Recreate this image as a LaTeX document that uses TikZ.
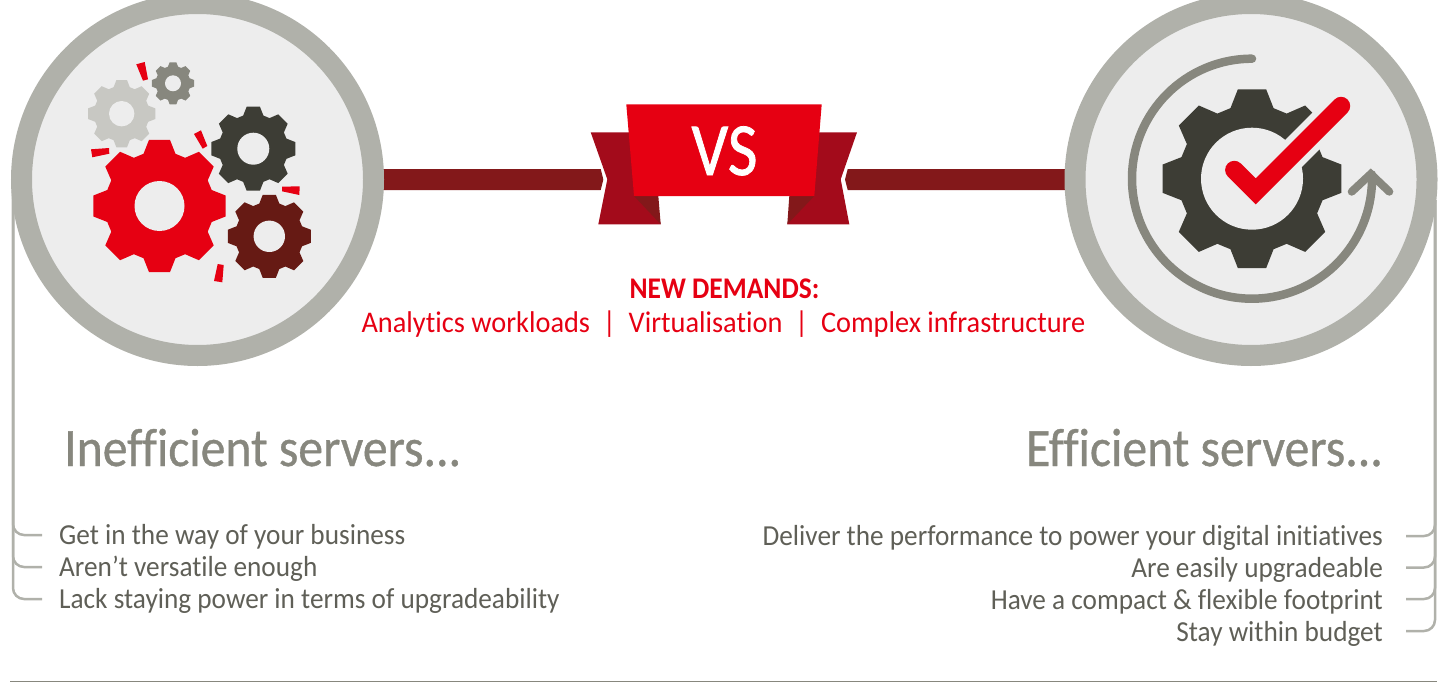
\documentclass[tikz,border=0pt]{standalone}
\usepackage{fontspec}
\setmainfont[Ligatures=NoCommon]{Carlito}
\newfontfamily\listfont[Ligatures=NoCommon,FakeStretch=0.94]{Carlito}
\newfontfamily\redfont[Ligatures=NoCommon,FakeStretch=0.945]{Carlito}
\newfontfamily\demandfont[Ligatures=NoCommon,FakeStretch=0.915]{Carlito}
\newfontfamily\headfont[Ligatures=NoCommon,FakeStretch=0.92,FakeBold=0.7]{Carlito}
\newfontfamily\vsfont[FakeStretch=0.86,FakeBold=1]{Carlito}
\definecolor{ringgrey}{HTML}{B0B1AA}
\definecolor{discgrey}{HTML}{EDEDED}
\definecolor{midgrey}{HTML}{87877E}
\definecolor{palegrey}{HTML}{C8C8C3}
\definecolor{textgrey}{HTML}{5F5F57}
\definecolor{gearblack}{HTML}{3D3D35}
\definecolor{gearbrown}{HTML}{661A14}
\definecolor{fujired}{HTML}{E60012}
\definecolor{tailred}{HTML}{A30B1B}
\definecolor{barred}{HTML}{83181A}
\tikzset{
	ring/.style={circle,draw=ringgrey,fill=discgrey,line width=21pt,minimum size=352pt,inner sep=0pt},
	rail/.style={draw=ringgrey,line width=2.5pt,rounded corners=11pt},
	spark/.style={fill=fujired},
	headtext/.style={text=midgrey,font=\headfont\fontsize{54}{54}\selectfont},
	listtext/.style={text=textgrey,font=\listfont\fontsize{29}{29}\selectfont},
	redtext/.style={text=fujired,font=\redfont\fontsize{30}{30}\selectfont}
}
\newcommand{\gearwheel}[4]{
	\fill[#4,shift={(#1)}] (-9:#2) \foreach \a in {0,45,...,315} {
		-- (\a-9:#2) -- (\a+9:#2) -- (\a+17:.815*#2) -- (\a+28:.815*#2)
	} -- cycle;
	\fill[discgrey,shift={(#1)}] (0,0) circle (#3);
}
\begin{document}
\begin{tikzpicture}[x=1pt,y=-1pt,>=latex]
	\useasboundingbox (0,0) rectangle (1439,682);
	\clip (0,0) rectangle (1439,682);
	% rails behind the rings
	\coordinate (railL) at (13,190);
	\coordinate (railR) at (1435,200);
	\foreach \name/\yy in {a/535,b/567,c/599} {
		\coordinate (tickL\name) at (42,\yy);
		\draw[rail] (railL) |- (tickL\name);
	}
	\foreach \name/\yy in {a/536,b/567.5,c/599,d/631} {
		\coordinate (tickR\name) at (1406,\yy);
		\draw[rail] (railR) |- (tickR\name);
	}
	% bars
	\coordinate (barL) at (384,179.5);
	\coordinate (barR) at (1065,179.5);
	\fill[barred] (barL) ++(-4,-10.5) -- (600.7,169) -- (603.3,179.5) -- (600.7,190) -- (380,190) -- cycle;
	\fill[barred] (barR) ++(4,-10.5) -- (847.7,169) -- (845,179.5) -- (847.7,190) -- (1069,190) -- cycle;
	% rings
	\node[ring] (ineff) at (197.5,179.5) {};
	\node[ring] (eff) at (1251,179.5) {};
	% gears on the left
	\gearwheel{121.7,113.7}{34}{12.7}{palegrey}
	\gearwheel{173,83.3}{21.3}{8}{midgrey}
	\gearwheel{253.3,148.7}{42.5}{16}{gearblack}
	\gearwheel{269.3,236.3}{42}{15.7}{gearbrown}
	\gearwheel{159.5,206}{67}{25}{fujired}
	\fill[spark] (136.3,64.3) -- (144.7,62) -- (148,79.3) -- (143,80.7) -- cycle;
	\fill[spark] (194,134) -- (201,130.3) -- (207.3,146) -- (202.7,148.7) -- cycle;
	\fill[spark] (91,149.3) -- (109,148) -- (109.3,153.7) -- (92.3,157.3) -- cycle;
	\fill[spark] (282,186.7) -- (299.7,186.3) -- (299.3,195) -- (282,191.3) -- cycle;
	\fill[spark] (217.7,264) -- (223.7,265) -- (222.3,282.3) -- (214,281) -- cycle;
	% gear and tick on the right
	\gearwheel{1252,178.7}{90.5}{51}{gearblack}
	\draw[discgrey,line width=31pt] (1255.7,191.3) -- (1347,100);
	\draw[fujired,line width=18.4pt,line cap=round,miter limit=10] (1234.3,170) -- (1255.7,191.3) -- (1341,106);
	\draw[midgrey,line width=8.5pt,line cap=round] (1252,58.7) arc[start angle=270,end angle=-2,radius=120];
	\draw[midgrey,line width=8pt,line cap=round] (1351.7,191.7) -- (1370.7,174) -- (1389.3,191.7);
	% ribbon
	\fill[tailred] (590.7,132.3) -- (640,132.3) -- (660.7,224.3) -- (598.3,224.3) -- (607.3,179.3) -- cycle;
	\fill[tailred] (857,132.3) -- (808,132.3) -- (787.3,224.3) -- (849.3,224.3) -- (840.7,179.3) -- cycle;
	\fill[barred] (634,196) -- (658.3,196) -- (660.7,224.3) -- cycle;
	\fill[barred] (814.3,196) -- (789.3,196) -- (787.3,224.3) -- cycle;
	\fill[fujired] (626.3,104.3) -- (821.7,104.3) -- (814.3,196) -- (634,196) -- cycle;
	\node[text=white,font=\vsfont\fontsize{75}{75}\selectfont,anchor=base] (vs) at (724.5,175) {VS};
	% texts
	\node[redtext,font=\demandfont\fontsize{30}{30}\bfseries\selectfont,anchor=base] (demands) at (724.5,298) {NEW DEMANDS:};
	\node[redtext,anchor=base] (kinds) at (723.5,332) {Analytics workloads\ \ |\ \ Virtualisation\ \ |\ \ Complex infrastructure};
	\node[headtext,anchor=base west,inner sep=0pt] (headL) at (64,466) {Inefficient servers...};
	\node[headtext,anchor=base east,inner sep=0pt] (headR) at (1383,466) {Efficient servers...};
	\node[listtext,anchor=base west,inner sep=0pt] (listLa) at (59,544) {Get in the way of your business};
	\node[listtext,anchor=base west,inner sep=0pt] (listLb) at (59,576) {Aren’t versatile enough};
	\node[listtext,anchor=base west,inner sep=0pt] (listLc) at (59,608) {Lack staying power in terms of upgradeability};
	\node[listtext,anchor=base east,inner sep=0pt] (listRa) at (1383,545) {Deliver the performance to power your digital initiatives};
	\node[listtext,anchor=base east,inner sep=0pt] (listRb) at (1383,577) {Are easily upgradeable};
	\node[listtext,anchor=base east,inner sep=0pt] (listRc) at (1383,609) {Have a compact \& flexible footprint};
	\node[listtext,anchor=base east,inner sep=0pt] (listRd) at (1383,641) {Stay within budget};
	% rule at the foot
	\coordinate (footL) at (10,681);
	\coordinate (footR) at (1437,681);
	\draw[midgrey,line width=1pt] (footL) -- (footR);
\end{tikzpicture}
\end{document}
